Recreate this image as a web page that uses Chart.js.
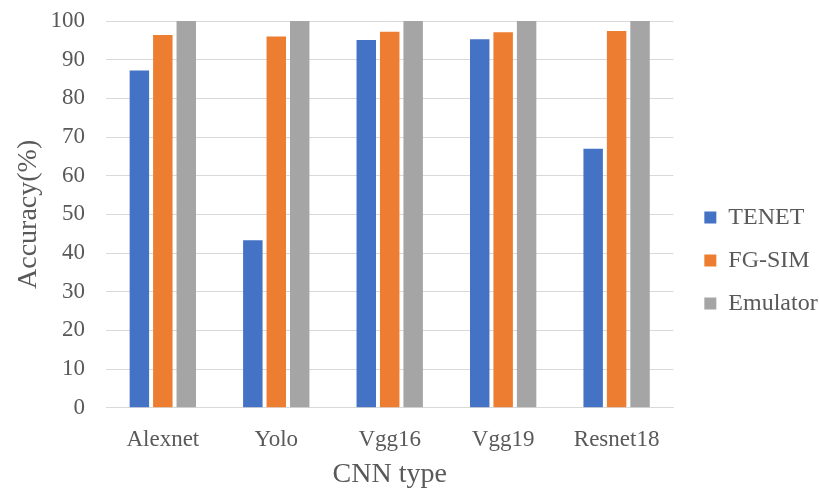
<!DOCTYPE html>
<html>
<head>
<meta charset="utf-8">
<script src="https://cdn.jsdelivr.net/npm/chart.js@4.4.1/dist/chart.umd.min.js"></script>
<style>
  html, body { margin: 0; padding: 0; background: #ffffff; }
  #wrap { width: 819px; height: 491px; position: relative; }
</style>
</head>
<body>
<div id="wrap"><canvas id="chart"></canvas></div>
<script>
// CNN models on the x axis
const categories = ['Alexnet', 'Yolo', 'Vgg16', 'Vgg19', 'Resnet18'];

// Accuracy (%) per simulator
const tenet    = [87.2, 43.3, 95.1, 95.3, 67.0];
const fgSim    = [96.4, 96.0, 97.2, 97.1, 97.4];
const emulator = [100, 100, 100, 100, 100];

// Y axis range and step
const yTicks = { min: 0, max: 100, step: 10 };

const textColor = '#595959';
const gridColor = '#d9d9d9';
const serif = "'Liberation Serif', 'Times New Roman', serif";

new Chart(document.getElementById('chart'), {
  type: 'bar',
  data: {
    labels: categories,
    datasets: [
      { label: 'TENET',    data: tenet,    backgroundColor: '#4472C4' },
      { label: 'FG-SIM',   data: fgSim,    backgroundColor: '#ED7D31' },
      { label: 'Emulator', data: emulator, backgroundColor: '#A5A5A5' }
    ]
  },
  options: {
    responsive: true,
    maintainAspectRatio: false,
    animation: false,
    datasets: {
      bar: { categoryPercentage: 0.62, barPercentage: 0.83 }
    },
    layout: { padding: { left: 12, right: -1, top: 0, bottom: 0 } },
    plugins: {
      tooltip: { enabled: false },
      legend: {
        position: 'right',
        align: 'center',
        title: {
          // blank heading that nudges the key down a little
          display: true,
          text: ' ',
          font: { family: serif, size: 20 },
          padding: 3
        },
        labels: {
          boxWidth: 12,
          boxHeight: 12,
          padding: 19,
          color: textColor,
          font: { family: serif, size: 24 }
        }
      }
    },
    scales: {
      x: {
        grid: { display: false, drawTicks: false },
        border: { display: true, color: gridColor, width: 1 },
        ticks: { color: textColor, font: { family: serif, size: 23 }, padding: 18 },
        title: {
          display: true,
          text: 'CNN type',
          color: textColor,
          font: { family: serif, size: 28 },
          padding: { top: -14, bottom: 0 }
        }
      },
      y: {
        min: yTicks.min,
        max: yTicks.max,
        grid: { color: gridColor, lineWidth: 1, drawTicks: false },
        border: { display: false },
        ticks: {
          stepSize: yTicks.step,
          color: textColor,
          font: { family: serif, size: 23 },
          padding: 21
        },
        title: {
          display: true,
          text: 'Accuracy(%)',
          color: textColor,
          font: { family: serif, size: 28 },
          padding: { top: 0, bottom: -16 }
        },
        // keep the top of the plot close to the "100" label
        afterFit: (scale) => { scale.paddingTop = 21; scale.paddingBottom = 14; }
      },
      // empty spacer between the plot and the key
      gap: {
        position: 'right',
        display: true,
        grid: { display: false, drawTicks: false },
        border: { display: false },
        ticks: { display: false },
        afterFit: (scale) => { scale.width = 12; }
      }
    }
  }
});
</script>
</body>
</html>
